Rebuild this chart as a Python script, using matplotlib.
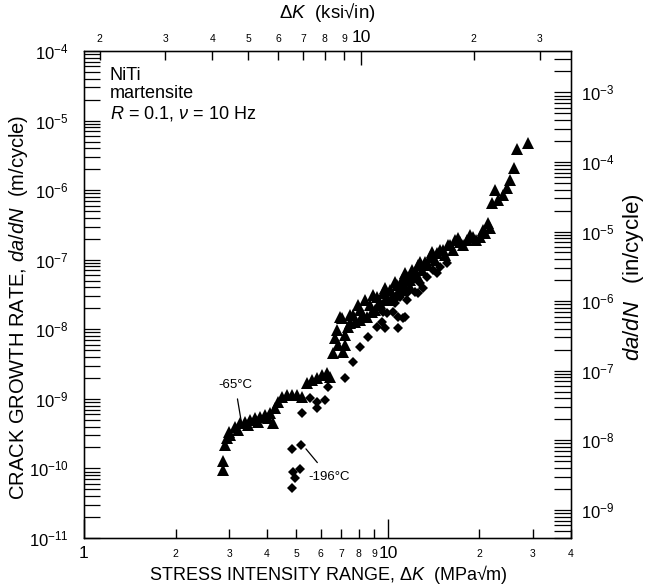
import matplotlib
matplotlib.use('Agg')
import matplotlib.pyplot as plt

plt.rcParams['font.family'] = ['Liberation Sans', 'DejaVu Sans']
plt.rcParams['mathtext.fontset'] = 'custom'
plt.rcParams['mathtext.rm'] = 'Liberation Sans'
plt.rcParams['mathtext.it'] = 'Liberation Sans:italic'
plt.rcParams['mathtext.bf'] = 'Liberation Sans:bold'
plt.rcParams['mathtext.sf'] = 'Liberation Sans'

# ---- data: -65 C (triangles) ----
dk_65 = [2.87, 2.87, 2.91, 2.95, 3.00, 3.02, 3.14, 3.21, 3.26, 3.39, 3.46, 3.52, 3.65, 3.74,
         3.79, 3.94, 4.03, 4.09,
         4.18, 4.25, 4.35, 4.48, 4.65, 4.83, 5.02, 5.21, 5.41, 5.62, 5.84, 6.07, 6.30, 6.45,
         6.59, 6.69, 6.80, 6.85, 6.95, 7.06, 7.11, 7.22, 7.22, 7.39, 7.50, 7.50, 7.67, 7.79,
         7.97, 8.09, 8.09, 8.27, 8.40, 8.53, 8.73, 8.86, 8.93, 9.06,
         9.20, 9.27, 9.41, 9.63, 9.77, 9.77, 10.0, 10.15, 10.31, 10.38, 10.54, 10.7, 10.79,
         10.95, 11.12, 11.2, 11.37, 11.37, 11.55, 11.82, 11.82, 11.99, 12.08,
         12.27, 12.46, 12.55, 12.74, 12.94, 13.23, 13.54, 13.75, 13.96, 14.28, 14.5, 14.83,
         15.17, 15.40, 15.76, 16.0, 16.36, 16.6, 16.99, 17.25, 17.65, 18.2, 18.61, 19.04,
         19.48, 20.07, 20.5, 20.85, 21.3, 21.65, 22.0, 22.5, 23.0, 23.9, 24.6, 25.2, 26.0,
         26.6, 28.9]
dadn_65 = [9.5e-11, 1.28e-10, 2.17e-10, 2.73e-10, 3.33e-10, 3.02e-10, 3.93e-10, 3.56e-10,
           4.49e-10, 4.64e-10, 4.2e-10, 4.96e-10, 5.30e-10, 4.64e-10, 5.48e-10, 5.85e-10,
           5.30e-10, 6.25e-10,
           4.49e-10, 7.38e-10, 9.0e-10, 1.06e-9, 1.13e-9, 1.13e-9, 1.13e-9, 1.06e-9, 1.69e-9,
           1.86e-9, 1.99e-9, 2.20e-9, 2.35e-9, 2.06e-9, 4.55e-9, 7.47e-9, 9.75e-9, 5.93e-9,
           1.50e-8, 1.45e-8, 4.70e-9, 8.26e-9, 5.93e-9, 1.08e-8, 1.23e-8, 1.60e-8, 1.60e-8,
           1.27e-8, 2.23e-8, 1.89e-8, 1.36e-8, 1.60e-8, 2.63e-8, 1.50e-8, 2.23e-8, 1.77e-8,
           3.10e-8, 1.89e-8,
           2.90e-8, 2.23e-8, 2.38e-8, 3.31e-8, 2.63e-8, 3.91e-8, 2.63e-8, 3.66e-8, 2.81e-8,
           3.10e-8, 4.77e-8, 4.32e-8, 3.42e-8,
           3.66e-8, 5.09e-8, 4.61e-8, 4.04e-8, 6.42e-8, 5.62e-8, 4.04e-8, 5.09e-8, 7.1e-8,
           5.62e-8,
           6.42e-8, 6.01e-8, 8.36e-8, 9.25e-8, 7.1e-8, 9.25e-8, 8.36e-8, 1.09e-7, 1.29e-7,
           9.87e-8, 1.24e-7, 1.37e-7,
           1.37e-7, 1.16e-7, 1.62e-7, 1.62e-7, 1.37e-7, 1.91e-7, 2.04e-7, 1.79e-7, 1.62e-7,
           1.91e-7, 2.25e-7, 2.11e-7,
           1.91e-7, 2.11e-7, 2.66e-7, 2.41e-7, 3.36e-7, 2.84e-7, 6.5e-7, 1.0e-6, 7.18e-7,
           8.47e-7, 1.07e-6, 1.39e-6, 2.07e-6,
           3.88e-6, 4.73e-6]

# ---- data: -196 C (diamonds) ----
dk_196 = [4.83, 5.17, 4.87, 5.13, 4.94, 4.83, 5.21, 5.54, 5.84, 5.84, 6.20, 6.35, 7.22, 7.67,
          8.09, 8.60, 9.20, 9.56, 9.63, 9.77, 9.92, 10.38, 10.54, 10.79, 10.79, 10.95, 11.2,
          11.37, 11.55, 11.55, 12.27, 12.55, 12.74, 13.04, 13.44, 14.06, 14.5, 14.83, 15.64]
dadn_196 = [1.90e-10, 2.17e-10, 8.9e-11, 9.8e-11, 7.3e-11, 5.2e-11, 6.25e-10, 1.03e-9, 9.0e-10,
            7.4e-10, 9.6e-10, 1.48e-9, 1.99e-9, 3.38e-9, 5.55e-9, 7.73e-9, 1.08e-8, 1.27e-8,
            1.77e-8, 1.04e-8, 1.71e-8, 1.77e-8, 2.38e-8, 1.04e-8, 1.50e-8, 2.90e-8, 1.45e-8,
            1.50e-8, 2.63e-8, 3.31e-8, 3.42e-8, 3.31e-8, 4.61e-8, 3.91e-8, 5.62e-8, 7.1e-8,
            6.42e-8, 7.83e-8, 8.94e-8]

# ---- tick definitions ----
x_major = [1, 10]
x_major_labels = ['1', '10']
x_minor = [2, 3, 4, 5, 6, 7, 8, 9, 20, 30, 40]
x_minor_labels = ['2', '3', '4', '5', '6', '7', '8', '9', '2', '3', '4']

top_major = [10]
top_major_labels = ['10']
top_minor = [2, 3, 4, 5, 6, 7, 8, 9, 20, 30]
top_minor_labels = ['2', '3', '4', '5', '6', '7', '8', '9', '2', '3']
top_lim = (1.817, 36.4)

y_exps = [-11, -10, -9, -8, -7, -6, -5, -4]
yr_exps = [-9, -8, -7, -6, -5, -4, -3]
M_PER_IN = 0.0254

PX = 72.0 / 100.0  # points per pixel

fig = plt.figure(figsize=(6.49, 5.86), dpi=100)
W, H = 649, 586
ax = fig.add_axes([84 / W, 1 - 538 / H, 487 / W, 487 / H])
ax.set_xscale('log')
ax.set_yscale('log')
ax.set_xlim(1, 40)
ax.set_ylim(1e-11, 1e-4)

ax.plot(dk_65, dadn_65, linestyle='none', marker='^', ms=9, color='black', mew=0)
ax.plot(dk_196, dadn_196, linestyle='none', marker='D', ms=5.5, color='black', mew=0)

for s in ax.spines.values():
    s.set_linewidth(1.0)

# bottom axis
ax.set_xticks(x_major)
ax.set_xticklabels(x_major_labels)
ax.set_xticks(x_minor, minor=True)
ax.set_xticklabels(x_minor_labels, minor=True)
ax.tick_params(axis='x', which='major', direction='in', length=19 * PX, width=1.0,
               labelsize=12.5, pad=6, top=False, bottom=True)
ax.tick_params(axis='x', which='minor', direction='in', length=9 * PX, width=1.0,
               labelsize=7.5, pad=8, top=False, bottom=True)

# left axis
yt = [10.0 ** e for e in y_exps]
ax.set_yticks(yt)
ax.set_yticklabels([r'$10^{%d}$' % e for e in y_exps])
ax.set_yticks([m * 10.0 ** e for e in y_exps[:-1] for m in range(2, 10)], minor=True)
ax.set_yticklabels([], minor=True)
ax.tick_params(axis='y', which='both', direction='in', length=16 * PX, width=0.9,
               left=True, right=False)
ax.tick_params(axis='y', which='major', labelsize=12, pad=11)

# right axis (in/cycle)
ax2 = ax.twinx()
ax2.set_yscale('log')
ax2.set_ylim(1e-11 / M_PER_IN, 1e-4 / M_PER_IN)
ax2.set_yticks([10.0 ** e for e in yr_exps])
ax2.set_yticklabels([r'$10^{%d}$' % e for e in yr_exps])
ax2.set_yticks([m * 10.0 ** e for e in [-10] + yr_exps for m in range(2, 10)
                if 1e-11 / M_PER_IN <= m * 10.0 ** e <= 1e-4 / M_PER_IN], minor=True)
ax2.set_yticklabels([], minor=True)
ax2.tick_params(axis='y', which='both', direction='in', length=17 * PX, width=0.9,
                right=True, left=False)
ax2.tick_params(axis='y', which='major', labelsize=12, pad=7)
ax2.set_ylim(1e-11 / M_PER_IN, 1e-4 / M_PER_IN)

# top axis (ksi sqrt in)
ax3 = ax.twiny()
ax3.set_xscale('log')
ax3.set_xlim(*top_lim)
ax3.set_xticks(top_major)
ax3.set_xticklabels(top_major_labels)
ax3.set_xticks(top_minor, minor=True)
ax3.set_xticklabels(top_minor_labels, minor=True)
ax3.tick_params(axis='x', which='major', direction='in', length=14 * PX, width=1.0,
                labelsize=12.5, pad=4, top=True, bottom=False)
ax3.tick_params(axis='x', which='minor', direction='in', length=9 * PX, width=1.0,
                labelsize=7.5, pad=5, top=True, bottom=False)
ax3.set_xlim(*top_lim)

# axis titles
fig.text(328 / W, 1 - 574 / H, r'STRESS INTENSITY RANGE, $\Delta K$  (MPa√m)',
         ha='center', va='center', fontsize=13)
fig.text(327 / W, 1 - 13 / H, r'$\Delta K$  (ksi√in)',
         ha='center', va='center', fontsize=13.5)
fig.text(19 / W, 1 - 307 / H, r'CRACK GROWTH RATE, $da/dN$  (m/cycle)',
         ha='center', va='center', rotation=90, fontsize=14.5)
fig.text(633 / W, 1 - 277 / H, r'$da/dN$   (in/cycle)',
         ha='center', va='center', rotation=90, fontsize=16)

# inset text
ax.text(0.053, 0.968, 'NiTi\nmartensite\n' + r'$R$ = 0.1, $\nu$ = 10 Hz',
        transform=ax.transAxes, ha='left', va='top', fontsize=13, linespacing=1.12)

# annotations
ax.annotate('-65°C', xy=(3.3, 4.4e-10), xytext=(3.14, 1.6e-9),
            ha='center', va='center', fontsize=9.5,
            arrowprops=dict(arrowstyle='-', color='black', lw=0.9, shrinkA=4, shrinkB=0))
ax.annotate('-196°C', xy=(5.3, 2.05e-10), xytext=(6.4, 7.6e-11),
            ha='center', va='center', fontsize=9.5,
            arrowprops=dict(arrowstyle='-', color='black', lw=0.9, shrinkA=5, shrinkB=2))

fig.savefig('out.png', dpi=100)
